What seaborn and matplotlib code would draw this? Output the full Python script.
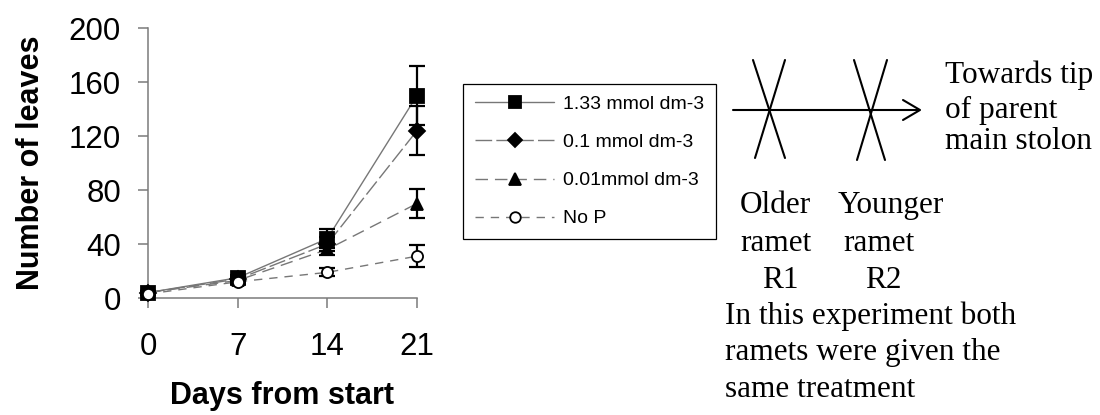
import matplotlib
matplotlib.use("Agg")
import matplotlib.pyplot as plt
import seaborn as sns
import pandas as pd
from matplotlib.lines import Line2D

# ---- data ----
days = [0, 7, 14, 21]
labels = ["1.33 mmol dm-3", "0.1 mmol dm-3", "0.01mmol dm-3", "No P"]
leaves_133 = [4, 15, 44, 150]
err_133 = [1.5, 2, 7, 22]
leaves_01 = [4, 14, 40, 124]
err_01 = [1.5, 2, 5, 18]
leaves_001 = [4, 13, 36, 70]
err_001 = [1.5, 2, 4, 11]
leaves_nop = [3, 12, 19, 31]
err_nop = [1, 1.5, 3, 8]
yticks = [0, 40, 80, 120, 160, 200]
xticks = [0, 7, 14, 21]

sns.set_theme(style="white")
plt.rcParams["font.family"] = ["Liberation Sans", "DejaVu Sans"]
plt.rcParams["text.color"] = "black"
plt.rcParams["axes.labelcolor"] = "black"

W, H = 1100, 415
fig = plt.figure(figsize=(W / 100, H / 100), dpi=100)
fig.patch.set_facecolor("white")

# overlay axes in pixel coords for the diagram
ovl = fig.add_axes([0, 0, 1, 1], zorder=0)
ovl.set_xlim(0, W)
ovl.set_ylim(H, 0)
ovl.axis("off")

ax = fig.add_axes([148 / W, 1 - 298 / H, (417 - 148) / W, (298 - 28) / H], zorder=2)
ax.patch.set_alpha(0)

series = [
    (leaves_133, err_133, "s", "black", (None, None), 9.5),
    (leaves_01, err_01, "D", "black", (12, 3), 8),
    (leaves_001, err_001, "^", "black", (9, 5), 9),
    (leaves_nop, err_nop, "o", "white", (6, 5), 8),
]
line_col = "#777777"
handles = []
for (vals, errs, mk, mfc, dash, ms), lab in zip(series, labels):
    df = pd.DataFrame({"day": days, "leaves": vals})
    sns.lineplot(data=df, x="day", y="leaves", ax=ax, color=line_col, lw=1.0,
                 legend=False, zorder=2)
    ln = ax.lines[-1]
    if dash[0] is not None:
        ln.set_dashes(dash)
    ax.errorbar(days, vals, yerr=errs, fmt="none", ecolor="black",
                elinewidth=1.6, capsize=5.5, capthick=1.6, zorder=3, clip_on=False)
    ax.plot(days, vals, linestyle="none", marker=mk, markersize=ms,
            markerfacecolor=mfc, markeredgecolor="black", markeredgewidth=1.3,
            zorder=4, clip_on=False)
    h = Line2D([0], [0], color=line_col, lw=1.0, marker=mk, markersize=ms * 0.95,
               markerfacecolor=mfc, markeredgecolor="black", markeredgewidth=1.3)
    if dash[0] is not None:
        h.set_dashes(dash)
    handles.append(h)

ax.set_xlim(0, 21)
ax.set_ylim(0, 200)
ax.set_xticks(xticks)
ax.set_yticks(yticks)
for s in ["top", "right"]:
    ax.spines[s].set_visible(False)
for s in ["left", "bottom"]:
    ax.spines[s].set_color("#7a7a7a")
    ax.spines[s].set_linewidth(1.1)
ax.tick_params(axis="both", direction="out", length=7.5, width=1.1,
               color="#7a7a7a", labelsize=22.5, labelcolor="black",
               bottom=True, left=True)
ax.tick_params(axis="x", pad=17)
ax.tick_params(axis="y", pad=12)
ax.set_xlabel("Days from start", fontsize=22, fontweight="bold", labelpad=14, color="black")
ax.set_ylabel("Number of leaves", fontsize=22, fontweight="bold", labelpad=16, color="black")

leg = ax.legend(handles, labels, loc="upper left",
                bbox_to_anchor=(463 / W, 1 - 84 / H), bbox_transform=fig.transFigure,
                frameon=True, fancybox=False, edgecolor="black", framealpha=1,
                borderaxespad=0, fontsize=14, handlelength=4.1, handletextpad=0.45,
                labelspacing=1.05, borderpad=0.6, numpoints=1)
leg.get_frame().set_linewidth(0.9)
for t in leg.get_texts():
    t.set_color("black")

# ---- diagram ----
lc = "black"
lw = 1.5
ovl.plot([733, 919], [110, 110], color=lc, lw=lw)
ovl.plot([903, 920, 903], [100, 110, 120], color=lc, lw=lw)
ovl.plot([753, 785], [60, 158], color=lc, lw=lw)
ovl.plot([785, 755], [60, 158], color=lc, lw=lw)
ovl.plot([854, 885], [60, 160], color=lc, lw=lw)
ovl.plot([887, 857], [60, 160], color=lc, lw=lw)

serif = ["Liberation Serif", "DejaVu Serif"]
fs = 22.5
def st(x, y, t):
    ovl.text(x, y, t, fontsize=fs, family=serif, ha="left", va="baseline", color="black")

st(945, 83, "Towards tip")
st(945, 118, "of parent")
st(945, 149, "main stolon")
st(740, 213, "Older")
st(838, 213, "Younger")
st(740, 251, "ramet")
st(843, 251, "ramet")
st(762, 288, "R1")
st(865, 288, "R2")
st(725, 324, "In this experiment both")
st(725, 360, "ramets were given the")
st(725, 397, "same treatment")

fig.savefig("out.png", dpi=100, facecolor="white")
